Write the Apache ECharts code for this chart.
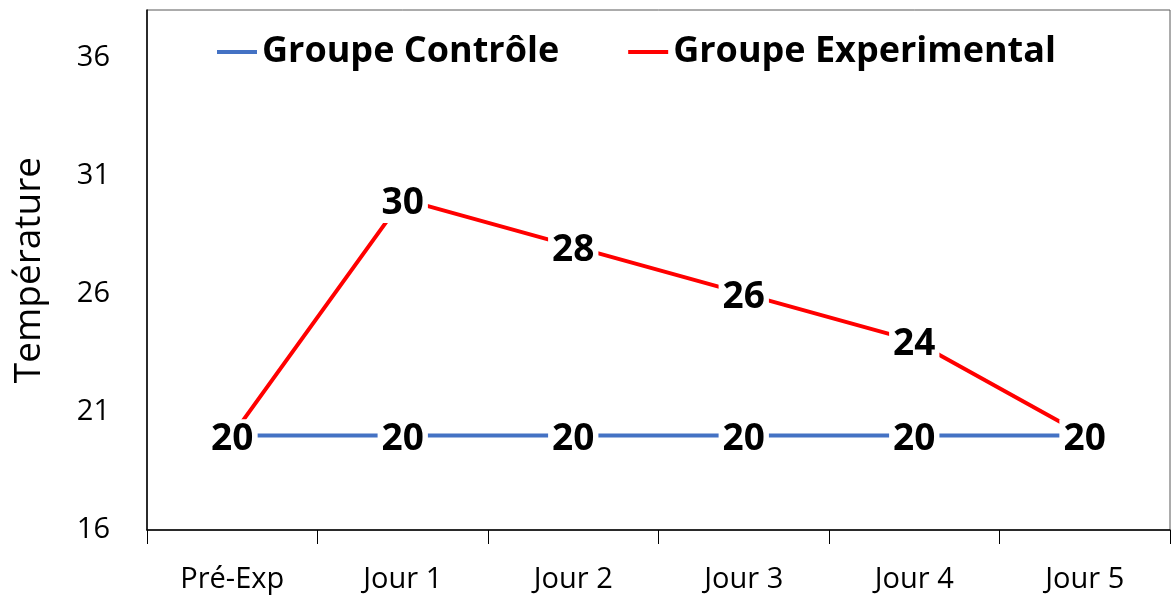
<!DOCTYPE html>
<html>
<head>
<meta charset="utf-8">
<script src="https://cdn.jsdelivr.net/npm/echarts@6/dist/echarts.min.js"></script>
<style>
  html, body { margin: 0; padding: 0; background: #fff; }
  #chart { width: 1171px; height: 597px; }
</style>
</head>
<body>
<div id="chart"></div>
<script>
// données
const categories = ['Pré-Exp', 'Jour 1', 'Jour 2', 'Jour 3', 'Jour 4', 'Jour 5'];
const controle = [20, 20, 20, 20, 20, 20];
const experimental = [20, 30, 28, 26, 24, 20];
const yTicks = [16, 21, 26, 31, 36];

const font = 'Open Sans, Noto Sans, sans-serif';
const chart = echarts.init(document.getElementById('chart'));

// étiquette centrée sur le point, fond blanc pour couper la ligne
function pointLabel() {
    return {
        show: true,
        position: 'inside',
        offset: [0, 4],
        color: '#000',
        fontFamily: font,
        fontWeight: 'bold',
        fontSize: 37,
        lineHeight: 40,
        backgroundColor: '#fff',
        padding: [0, 4]
    };
}

const option = {
    animation: false,
    grid: {
        left: 147,
        right: 1,
        top: 10,
        bottom: 67,
        outerBoundsMode: 'none',
        show: true,
        borderColor: '#595959',
        borderWidth: 1
    },
    legend: {
        top: 29,
        left: 212,
        itemGap: 69,
        itemWidth: 40,
        itemHeight: 4,
        itemTextGap: 3,
        icon: 'rect',
        textStyle: {
            fontFamily: font,
            fontWeight: 'bold',
            fontSize: 36,
            color: '#000'
        },
        data: ['Groupe Contrôle', 'Groupe Experimental']
    },
    xAxis: {
        type: 'category',
        data: categories,
        boundaryGap: true,
        axisLine: { lineStyle: { color: '#000', width: 1.5 } },
        axisTick: { show: true, length: 14, inside: false, lineStyle: { color: '#000' } },
        axisLabel: { color: '#000', fontFamily: font, fontSize: 29, margin: 35 }
    },
    yAxis: {
        type: 'value',
        min: 16,
        max: 38,
        name: 'Température',
        nameLocation: 'middle',
        nameGap: 99,
        nameTextStyle: { color: '#000', fontFamily: font, fontSize: 37 },
        axisLine: { show: true, lineStyle: { color: '#000', width: 1.5 } },
        axisTick: { show: false },
        splitLine: { show: false },
        axisLabel: {
            color: '#000',
            fontFamily: font,
            fontSize: 29,
            margin: 37,
            customValues: yTicks
        }
    },
    series: [
        {
            name: 'Groupe Contrôle',
            type: 'line',
            data: controle,
            symbol: 'circle',
            symbolSize: 2,
            color: '#4472C4',
            lineStyle: { width: 4, color: '#4472C4' },
            label: pointLabel()
        },
        {
            name: 'Groupe Experimental',
            type: 'line',
            data: experimental,
            symbol: 'circle',
            symbolSize: 2,
            color: '#FF0000',
            lineStyle: { width: 4, color: '#FF0000' },
            label: pointLabel()
        }
    ]
};

chart.setOption(option);
</script>
</body>
</html>
